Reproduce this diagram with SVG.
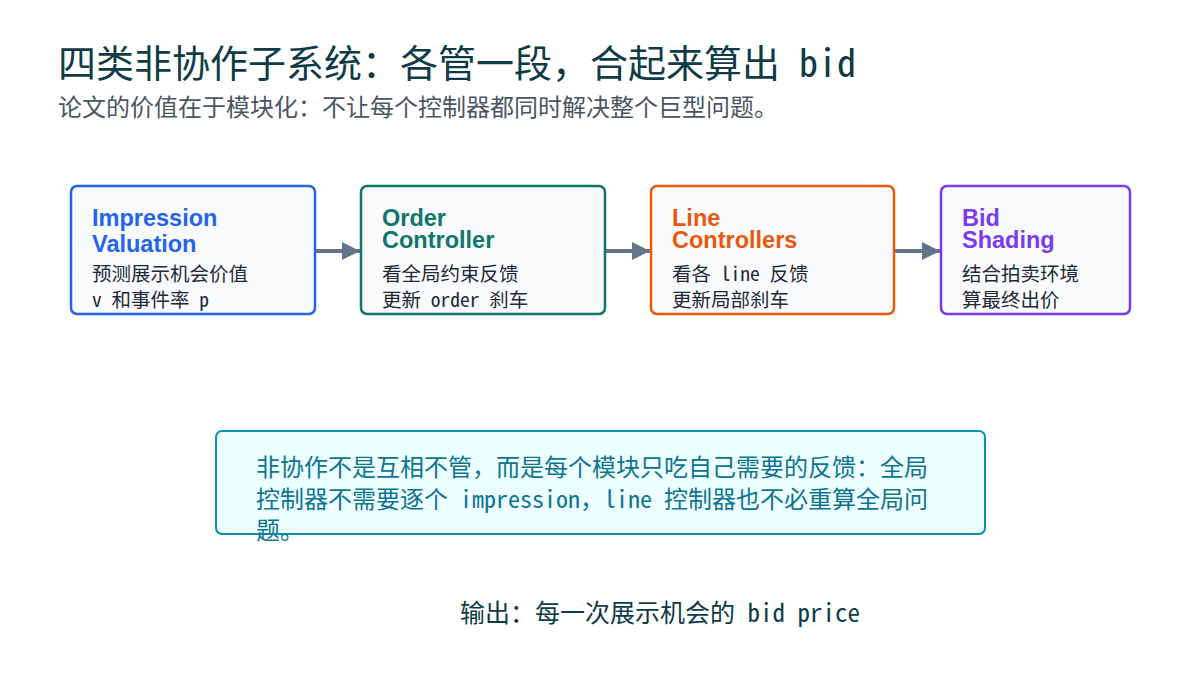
<svg xmlns="http://www.w3.org/2000/svg" width="1200" height="675" viewBox="0 0 1200 675">
<defs>
<style>
.cjk{font-family:"Noto Sans Mono CJK SC","Noto Sans CJK SC",monospace;}
.box{fill:#f8fafc;stroke-width:2.5;}
.ttl{font-family:"Liberation Sans","Noto Sans CJK SC",sans-serif;font-weight:bold;font-size:23.5px;}
.desc{font-family:"Noto Sans Mono CJK SC","Noto Sans CJK SC",monospace;font-size:19.5px;fill:#1f2937;}
.conn{stroke:#64748b;stroke-width:4;fill:none;}
</style>
<marker id="ah" viewBox="0 0 10 10" refX="10" refY="5" markerWidth="4.5" markerHeight="4.5" orient="auto" markerUnits="strokeWidth">
<path d="M0,0 L10,5 L0,10 z" fill="#64748b"/>
</marker>
</defs>
<rect width="1200" height="675" fill="#ffffff"/>
<g id="title">
<text x="58" y="76.5" class="cjk" font-size="38" fill="#0f3b47">四类非协作子系统：各管一段，合起来算出 bid</text>
<text x="58" y="116" class="cjk" font-size="24" fill="#4b5563">论文的价值在于模块化：不让每个控制器都同时解决整个巨型问题。</text>
</g>
<g id="connectors">
<line x1="315" y1="251" x2="360" y2="251" class="conn" marker-end="url(#ah)"/>
<line x1="605" y1="251" x2="650" y2="251" class="conn" marker-end="url(#ah)"/>
<line x1="894" y1="251" x2="940" y2="251" class="conn" marker-end="url(#ah)"/>
</g>
<g id="node-impression">
<rect x="71" y="186" width="244" height="128" rx="6" class="box" stroke="#2563eb"/>
<text x="92" y="225.5" class="ttl" fill="#2563eb">Impression</text>
<text x="92" y="252" class="ttl" fill="#2563eb">Valuation</text>
<text x="92" y="280.5" class="desc">预测展示机会价值</text>
<text x="92" y="306.5" class="desc">v 和事件率 p</text>
</g>
<g id="node-order">
<rect x="361" y="186" width="244" height="128" rx="6" class="box" stroke="#0f766e"/>
<text x="382" y="225.5" class="ttl" fill="#0f766e">Order</text>
<text x="382" y="248" class="ttl" fill="#0f766e">Controller</text>
<text x="382" y="280.5" class="desc">看全局约束反馈</text>
<text x="382" y="306.5" class="desc">更新 order 刹车</text>
</g>
<g id="node-line">
<rect x="651" y="186" width="243" height="128" rx="6" class="box" stroke="#ea580c"/>
<text x="672" y="225.5" class="ttl" fill="#ea580c">Line</text>
<text x="672" y="248" class="ttl" fill="#ea580c">Controllers</text>
<text x="672" y="280.5" class="desc">看各 line 反馈</text>
<text x="672" y="306.5" class="desc">更新局部刹车</text>
</g>
<g id="node-bid">
<rect x="941" y="186" width="189" height="128" rx="6" class="box" stroke="#7c3aed"/>
<text x="962" y="225.5" class="ttl" fill="#7c3aed">Bid</text>
<text x="962" y="248" class="ttl" fill="#7c3aed">Shading</text>
<text x="962" y="280.5" class="desc">结合拍卖环境</text>
<text x="962" y="306.5" class="desc">算最终出价</text>
</g>
<g id="note">
<rect x="216" y="431" width="769" height="103" rx="6" fill="#ecfeff" stroke="#0891b2" stroke-width="2"/>
<text class="cjk" font-size="24" fill="#0e7490">
<tspan x="256" y="476">非协作不是互相不管，而是每个模块只吃自己需要的反馈：全局</tspan>
<tspan x="256" y="508">控制器不需要逐个 impression，line 控制器也不必重算全局问</tspan>
<tspan x="256" y="539">题。</tspan>
</text>
</g>
<g id="output">
<text x="660" y="622" text-anchor="middle" class="cjk" font-size="25" fill="#0f3b47">输出：每一次展示机会的 bid price</text>
</g>
</svg>
